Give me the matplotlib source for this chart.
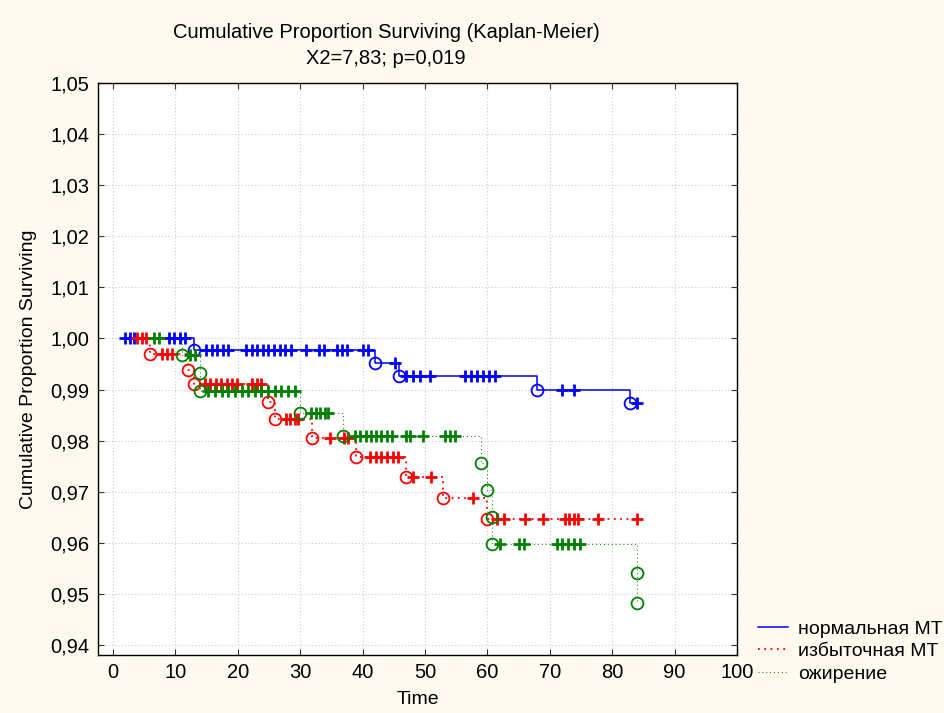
import numpy as np
import matplotlib
matplotlib.use("Agg")
import matplotlib.pyplot as plt
from matplotlib.ticker import FuncFormatter

plt.rcParams['font.family'] = ['Liberation Sans', 'DejaVu Sans']

# --------------------------- данные (читаются с картинки) ---------------------------
groups = ['нормальная МТ', 'избыточная МТ', 'ожирение']
start_time = 2.0
end_time = 84.0

# нормальная МТ
blue_event_t = [13.0, 42.0, 45.8, 68.0, 82.9]
blue_event_s = [0.9978, 0.9952, 0.9927, 0.9899, 0.9874]
blue_cens = [2.0, 2.7, 3.4,
             8.9, 9.8, 10.7, 11.6,
             14.9, 15.8, 16.7, 17.6, 18.5,
             21.3, 22.2, 23.1, 24.0, 24.9, 25.8, 26.7, 27.6, 28.5,
             30.9, 33.0, 33.8, 35.9, 36.7, 37.5, 40.0, 40.8,
             45.2, 47.0, 48.1, 49.2, 50.8,
             56.4, 57.4, 58.3, 59.3, 60.2, 61.2,
             71.9, 73.8, 84.0]

# избыточная МТ
red_event_t = [6.0, 12.0, 13.0, 24.9, 25.9, 31.9, 38.9, 46.9, 52.9, 59.9]
red_event_s = [0.9970, 0.9938, 0.9910, 0.9875, 0.9842, 0.9806, 0.9768, 0.9728, 0.9687, 0.9646]
red_cens = [3.9, 4.6, 5.3,
            7.9, 8.7, 9.5,
            14.7, 15.6, 16.5, 17.3, 18.2, 19.0, 19.9, 22.2, 23.0, 23.8,
            27.8, 28.4, 29.1, 29.7,
            34.8, 37.0, 37.7,
            41.2, 42.1, 43.0, 43.9, 44.8, 45.7,
            48.1, 51.0,
            57.7,
            61.6, 62.6, 66.0, 68.9, 72.4, 73.1, 73.8, 74.5, 77.8, 83.9]

# ожирение
green_event_t = [11.0, 13.9, 13.9, 30.0, 36.9, 58.9, 59.9, 60.8, 60.8, 84.0, 84.0]
green_event_s = [0.9967, 0.9932, 0.9897, 0.9854, 0.9810, 0.9757, 0.9704, 0.9651, 0.9598, 0.9541, 0.9483]
green_cens = [6.6, 7.4,
              12.3, 13.2,
              15.2, 16.3, 17.4, 18.5, 19.5, 20.6, 21.7, 22.8, 23.8, 24.9, 26.0, 27.0, 28.1, 29.2,
              31.8, 32.5, 33.2, 33.9, 34.5,
              38.8, 39.6, 40.5, 41.3, 42.2, 43.0, 43.9, 44.7, 47.0, 47.6, 49.7, 53.2, 54.0, 54.8,
              62.0, 65.1, 65.9, 71.1, 72.0, 72.9, 73.9, 74.8]

x_ticks = list(range(0, 101, 10))
y_ticks = [0.94, 0.95, 0.96, 0.97, 0.98, 0.99, 1.00, 1.01, 1.02, 1.03, 1.04, 1.05]

# --------------------------- функции ---------------------------

def surv_at(t, ev_t, ev_s):
    # значение ступенчатой функции в момент t
    i = np.searchsorted(ev_t, t, side='right')
    return 1.0 if i == 0 else ev_s[i - 1]


def plot_km(ax, ev_t, ev_s, cens, color, ls, lw, label):
    xs = [start_time] + ev_t + [end_time]
    ys = [1.0] + ev_s + [ev_s[-1]]
    ax.plot(xs, ys, drawstyle='steps-post', color=color, linestyle=ls, linewidth=lw, label=label, zorder=3)
    ax.plot(ev_t, ev_s, linestyle='none', marker='o', markersize=8.5, markerfacecolor='none',
            markeredgecolor=color, markeredgewidth=1.3, zorder=4)
    cy = [surv_at(t, ev_t, ev_s) for t in cens]
    ax.plot(cens, cy, linestyle='none', marker='+', markersize=8, markeredgewidth=2.0,
            color=color, zorder=4)


fig = plt.figure(figsize=(9.44, 7.13), dpi=100, facecolor='#fefaf0')
ax = fig.add_axes([98 / 944, 1 - 655 / 713, (737 - 98) / 944, (655 - 83) / 713])
ax.set_facecolor('white')

plot_km(ax, blue_event_t, blue_event_s, blue_cens, '#0000ff', '-', 1.1, groups[0])
plot_km(ax, red_event_t, red_event_s, red_cens, '#ff0000', (0, (1, 2.5)), 1.3, groups[1])
plot_km(ax, green_event_t, green_event_s, green_cens, '#008000', (0, (1, 3)), 0.7, groups[2])

ax.set_xlim(-2.4, 100)
ax.set_ylim(0.93804, 1.05)
ax.set_xticks(x_ticks)
ax.set_yticks(y_ticks)
ax.yaxis.set_major_formatter(FuncFormatter(lambda v, p: ('%.2f' % v).replace('.', ',')))
ax.tick_params(direction='in', length=4, width=0.8, labelsize=14.5, top=True, right=True,
               color='#333333', pad=6)
ax.grid(True, color='#cccccc', linestyle=(0, (1, 2)), linewidth=0.8, zorder=0)
for s in ax.spines.values():
    s.set_linewidth(1.0)
    s.set_color('black')

ax.set_xlabel('Time', fontsize=14, labelpad=6)
ax.set_ylabel('Cumulative Proportion Surviving', fontsize=14, labelpad=10)

fig.text(386 / 944, 1 - 32 / 713, 'Cumulative Proportion Surviving (Kaplan-Meier)', ha='center', va='center', fontsize=14.5)
fig.text(386 / 944, 1 - 58 / 713, 'X2=7,83; p=0,019', ha='center', va='center', fontsize=14.5)

handles, labels = ax.get_legend_handles_labels()
fig.legend(handles, labels, loc='upper left', bbox_to_anchor=(758 / 944, 1 - 620 / 713),
           frameon=False, fontsize=14, handlelength=1.55, handletextpad=0.5,
           borderpad=0, borderaxespad=0, labelspacing=0.25)

fig.savefig('out.png', dpi=100, facecolor=fig.get_facecolor())
